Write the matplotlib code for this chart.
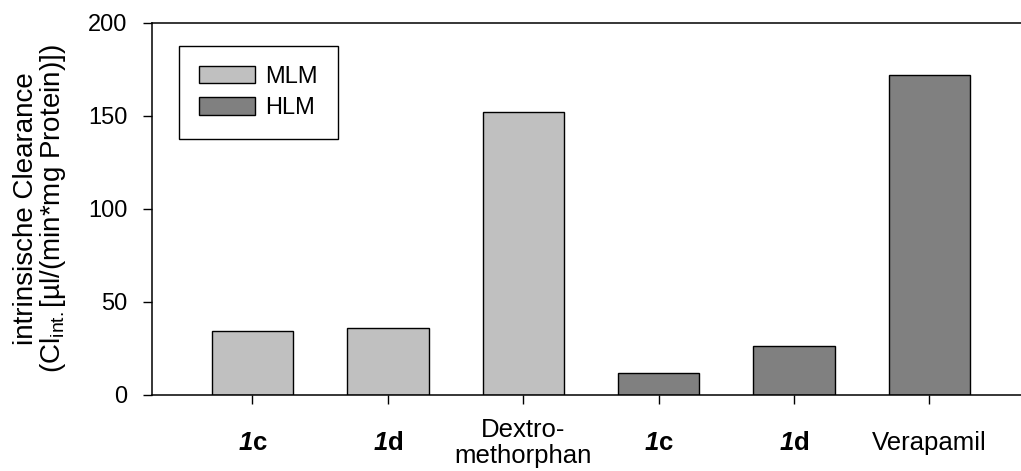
import matplotlib.pyplot as plt
import numpy as np
from matplotlib.patches import Patch

plt.rcParams["font.family"] = ["Liberation Sans", "DejaVu Sans"]
plt.rcParams["mathtext.fontset"] = "custom"
plt.rcParams["mathtext.rm"] = "Liberation Sans"
plt.rcParams["mathtext.it"] = "Liberation Sans:italic"
plt.rcParams["mathtext.bf"] = "Liberation Sans:bold"
plt.rcParams["mathtext.bfit"] = "Liberation Sans:italic:bold"

# data
labels = [
    r"$\mathbfit{1}\mathbf{c}$",
    r"$\mathbfit{1}\mathbf{d}$",
    "Dextro-\nmethorphan",
    r"$\mathbfit{1}\mathbf{c}$",
    r"$\mathbfit{1}\mathbf{d}$",
    "Verapamil",
]
groups = ["MLM", "MLM", "MLM", "HLM", "HLM", "HLM"]
clearance = [34.3, 35.9, 152.2, 11.8, 26.3, 172.0]
colors = {"MLM": "#c0c0c0", "HLM": "#808080"}
yticks = [0, 50, 100, 150, 200]

fig = plt.figure(figsize=(10.21, 4.71), dpi=100)
ax = fig.add_axes([0.1489, 0.1614, 0.8511, 0.7904])

x = np.arange(len(labels))
ax.bar(
    x,
    clearance,
    width=0.6,
    color=[colors[g] for g in groups],
    edgecolor="black",
    linewidth=1.0,
)

ax.set_xlim(-0.742, 5.676)
ax.set_ylim(0, 200)
ax.set_yticks(yticks)
ax.set_xticks(x)
ax.set_xticklabels(labels, fontsize=18.5, linespacing=1.1)
for t in ax.get_xticklabels():
    t.set_verticalalignment("center")

ax.tick_params(axis="y", direction="out", length=6.5, width=1.0, labelsize=17, pad=11)
ax.tick_params(axis="x", direction="out", length=6.5, width=1.0, pad=28)

ax.spines["right"].set_visible(False)
for s in ["left", "bottom", "top"]:
    ax.spines[s].set_linewidth(1.1)

ax.set_ylabel(
    "intrinsische Clearance\n(Cl$_{\\mathrm{int.}}$[µl/(min*mg Protein)])",
    fontsize=20,
    labelpad=15,
    linespacing=0.95,
)

handles = [
    Patch(facecolor=colors["MLM"], edgecolor="black", linewidth=1.0, label="MLM"),
    Patch(facecolor=colors["HLM"], edgecolor="black", linewidth=1.0, label="HLM"),
]
leg = ax.legend(
    handles=handles,
    loc="upper left",
    bbox_to_anchor=(0.031, 0.938),
    borderaxespad=0,
    fontsize=17,
    fancybox=False,
    framealpha=1,
    edgecolor="black",
    handlelength=2.35,
    handleheight=0.75,
    handletextpad=0.45,
    labelspacing=0.4,
    borderpad=0.85,
)
leg.get_frame().set_linewidth(1.0)

plt.savefig("out.png", dpi=100)
